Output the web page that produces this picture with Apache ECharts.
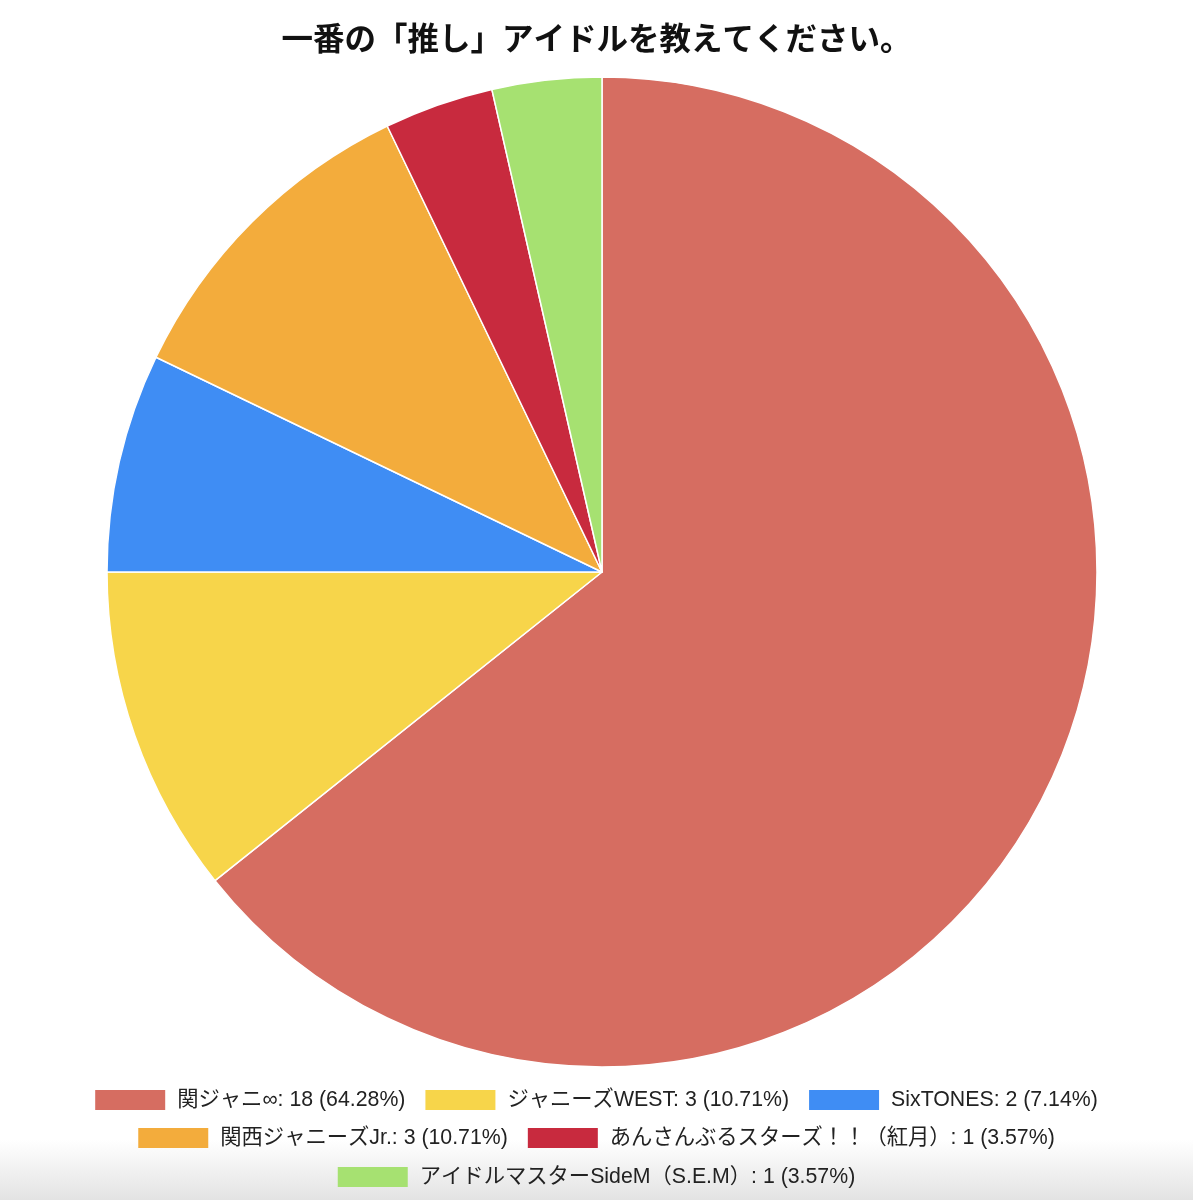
<!DOCTYPE html>
<html>
<head>
<meta charset="utf-8">
<script src="https://cdn.jsdelivr.net/npm/echarts@6/dist/echarts.min.js"></script>
<style>
html,body{margin:0;padding:0;background:#fff;}
#chart{width:1193px;height:1200px;}
</style>
</head>
<body>
<div id="chart"></div>
<script>
var titleText = '一番の「推し」アイドルを教えてください。';
var categories = ['関ジャニ∞', 'ジャニーズWEST', 'SixTONES', '関西ジャニーズJr.', 'あんさんぶるスターズ！！（紅月）', 'アイドルマスターSideM（S.E.M）'];
var values = [18, 3, 2, 3, 1, 1];
var colors = ['#D66D61', '#F7D54A', '#3F8DF4', '#F3AC3C', '#C82A3E', '#A6E171'];
var legendRows = [[0, 1, 2], [3, 4], [5]];

var total = values.reduce(function (a, b) { return a + b; }, 0);
function pct(v) { return (Math.floor(v / total * 10000) / 100).toFixed(2) + '%'; }
var labelMap = {};
categories.forEach(function (c, i) { labelMap[c] = c + ': ' + values[i] + ' (' + pct(values[i]) + ')'; });

var font = 'Arial, "Liberation Sans", "Noto Sans CJK JP", sans-serif';
var rowTops = [1084, 1122, 1161];
var legends = legendRows.map(function (row, r) {
  return {
    top: rowTops[r],
    left: 'center',
    orient: 'horizontal',
    itemWidth: 70,
    itemHeight: 20,
    itemGap: 20,
    icon: 'rect',
    selectedMode: false,
    itemStyle: { borderWidth: 0 },
    data: row.map(function (i) { return categories[i]; }),
    formatter: function (name) { return labelMap[name]; },
    textStyle: { fontSize: 21.3, color: '#222', fontFamily: font, padding: [0, 0, 0, 7], lineHeight: 22 }
  };
});

var chart = echarts.init(document.getElementById('chart'));
chart.setOption({
  backgroundColor: '#fff',
  animation: false,
  color: colors,
  title: {
    text: titleText,
    left: 'center',
    top: 21,
    textStyle: { fontSize: 31.5, fontWeight: 'bold', color: '#111', fontFamily: font }
  },
  graphic: [{
    type: 'rect',
    left: 0,
    top: 1140,
    z: -10,
    shape: { width: 1193, height: 60 },
    style: {
      fill: {
        type: 'linear', x: 0, y: 0, x2: 0, y2: 1,
        colorStops: [{ offset: 0, color: '#ffffff' }, { offset: 1, color: '#e3e3e3' }]
      }
    },
    silent: true
  }],
  legend: legends,
  series: [{
    type: 'pie',
    center: [602, 572],
    radius: [0, 495],
    startAngle: 90,
    clockwise: true,
    silent: true,
    label: { show: false },
    labelLine: { show: false },
    itemStyle: { borderColor: '#fff', borderWidth: 1.5 },
    data: categories.map(function (c, i) { return { name: c, value: values[i] }; })
  }]
});
</script>
</body>
</html>
